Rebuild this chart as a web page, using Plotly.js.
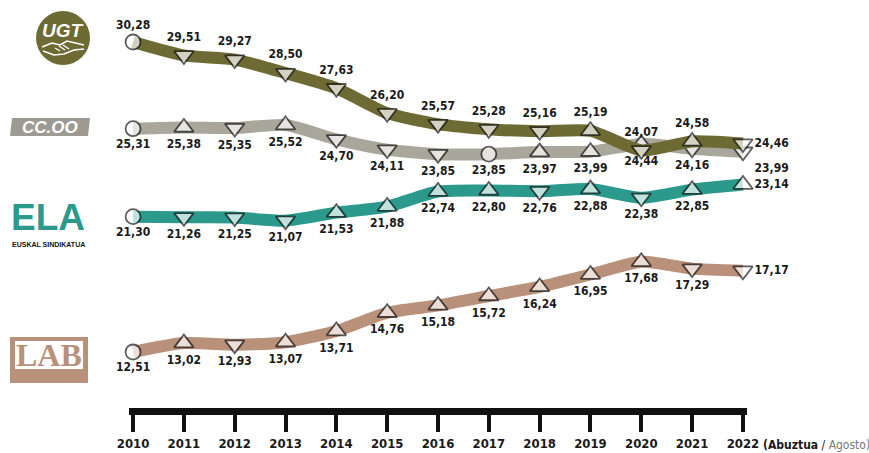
<!DOCTYPE html>
<html>
<head>
<meta charset="utf-8">
<script src="https://cdn.plot.ly/plotly-3.0.1.min.js"></script>
<style>html,body{margin:0;padding:0;background:#fff;}#chart{width:869px;height:453px;}</style>
</head>
<body>
<div id="chart"></div>
<script>
// ---- data ----
const years = [2010, 2011, 2012, 2013, 2014, 2015, 2016, 2017, 2018, 2019, 2020, 2021, 2022];
const tickLabels = ["2010","2011","2012","2013","2014","2015","2016","2017","2018","2019","2020","2021","2022"];
const ugt  = [30.28, 29.51, 29.27, 28.50, 27.63, 26.20, 25.57, 25.28, 25.16, 25.19, 24.07, 24.58, 24.46];
const ccoo = [25.31, 25.38, 25.35, 25.52, 24.70, 24.11, 23.85, 23.85, 23.97, 23.99, 24.44, 24.16, 23.99];
const ela  = [21.30, 21.26, 21.25, 21.07, 21.53, 21.88, 22.74, 22.80, 22.76, 22.88, 22.38, 22.85, 23.14];
const lab  = [12.51, 13.02, 12.93, 13.07, 13.71, 14.76, 15.18, 15.72, 16.24, 16.95, 17.68, 17.29, 17.17];
const seriesNames = ["UGT", "CC.OO", "ELA", "LAB"];

// ---- layout geometry (pixels) ----
const W = 869, H = 453;
const L = 129, R = 122, T = 10, B = 45;
const PW = W - L - R, PH = H - T - B;
const px = x => (x - L) / PW;
const py = y => (H - B - y) / PH;

const LBL_FONT = "'Liberation Sans Narrow', 'DejaVu Sans Condensed', 'Liberation Sans', sans-serif";

function symbols(v) {
  return v.map((d, i) => {
    if (i === 0 || d === v[i - 1]) return "circle";
    return d > v[i - 1] ? "triangle-up" : "triangle-down";
  });
}
function sizes(v) {
  return symbols(v).map(s => s === "circle" ? 15 : 17);
}
function labels(v) {
  return v.map(d => d.toFixed(2).replace(".", ","));
}
function positions(v, pos, lastPos) {
  return v.map((d, i) => i === v.length - 1 ? lastPos : pos);
}
function trace(v, name, color, pos, lastPos, yaxis) {
  return {
    x: years, y: v, name: name, yaxis: yaxis,
    type: "scatter", mode: "lines+markers+text",
    line: {color: color, width: 12, shape: "spline", smoothing: 0.6},
    marker: {symbol: symbols(v), size: sizes(v), color: "#ffffff",
             line: {color: "#1a1a1a", width: 1.8}},
    text: labels(v), textposition: positions(v, pos, lastPos),
    textfont: {family: LBL_FONT, size: 12, color: "#1a1a1a", weight: "bold"},
    cliponaxis: false, hoverinfo: "skip"
  };
}

const data = [
  trace(lab,  seriesNames[3], "#b9907a", "bottom center", "middle right", "y"),
  trace(ela,  seriesNames[2], "#2b9a8c", "bottom center", "middle right", "y2"),
  trace(ccoo, seriesNames[1], "#a9a79c", "bottom center", "bottom right", "y"),
  trace(ugt,  seriesNames[0], "#6d6a34", "top center", "middle right", "y")
];

// y scale: ~17.445 px per unit
const ppu = 17.445;
const yTop = 30.28 + (42 - T) / ppu;
const yBot = yTop - PH / ppu;
const shift = 18 / ppu; // ELA drawn on its own (offset) axis

const shapes = [
  // UGT logo
  {type: "circle", xref: "paper", yref: "paper",
   x0: px(36), x1: px(90), y0: py(65), y1: py(11),
   fillcolor: "#6d6a34", line: {width: 0}},
  {type: "path", xref: "paper", yref: "paper",
   path: `M${px(42)},${py(47)} L${px(52)},${py(43)} L${px(60)},${py(45)} L${px(67)},${py(41)} L${px(84)},${py(45)}`,
   line: {color: "#ffffff", width: 1.6}},
  {type: "path", xref: "paper", yref: "paper",
   path: `M${px(43)},${py(51)} L${px(54)},${py(55)} L${px(64)},${py(54)} L${px(74)},${py(50)} L${px(84)},${py(49)}`,
   line: {color: "#ffffff", width: 1.6}},
  {type: "path", xref: "paper", yref: "paper",
   path: `M${px(55)},${py(48)} L${px(60)},${py(51)} M${px(59)},${py(46)} L${px(65)},${py(50)} M${px(63)},${py(45)} L${px(69)},${py(49)}`,
   line: {color: "#ffffff", width: 1.3}},
  // CC.OO logo
  {type: "path", xref: "paper", yref: "paper",
   path: `M${px(12)},${py(118)} L${px(90)},${py(118)} L${px(88)},${py(136)} L${px(10)},${py(136)} Z`,
   fillcolor: "#9c9a91", line: {width: 0}},
  // LAB logo
  {type: "rect", xref: "paper", yref: "paper",
   x0: px(10), x1: px(88), y0: py(383), y1: py(337),
   fillcolor: "#b9907a", line: {width: 0}},
  {type: "rect", xref: "paper", yref: "paper",
   x0: px(15), x1: px(83), y0: py(369), y1: py(341),
   fillcolor: "#ffffff", line: {width: 0}}
];

function note(x, y, text, font, xanchor) {
  return {xref: "paper", yref: "paper", x: px(x), y: py(y), text: text, showarrow: false,
          xanchor: xanchor || "center", yanchor: "middle", font: font};
}
const annotations = [
  note(63, 30, "<i>UGT</i>", {family: "'Liberation Sans', sans-serif", size: 19, color: "#ffffff", weight: "bold"}),
  note(50, 127, "<i>CC.OO</i>", {family: "'Liberation Sans', sans-serif", size: 17, color: "#ffffff", weight: "bold"}),
  note(48, 217, "ELA", {family: "'Liberation Sans', sans-serif", size: 37, color: "#2b9a8c", weight: "bold"}),
  note(48, 245, "EUSKAL SINDIKATUA", {family: "'Liberation Sans', sans-serif", size: 7, color: "#111111", weight: "bold"}),
  note(49, 355, "LAB", {family: "'Liberation Serif', 'DejaVu Serif', serif", size: 32, color: "#b9907a", weight: "bold"}),
  note(761, 445, "<b>(Abuztua</b> / <span style='color:#777'>Agosto)</span>",
       {family: LBL_FONT, size: 12, color: "#1a1a1a"}, "left")
];

const layout = {
  width: W, height: H,
  margin: {l: L, r: R, t: T, b: B, pad: 0},
  paper_bgcolor: "#ffffff", plot_bgcolor: "#ffffff",
  showlegend: false,
  xaxis: {
    range: [2009.92, 2022.08], tickvals: years, ticktext: tickLabels,
    showgrid: false, zeroline: false,
    showline: true, linewidth: 7, linecolor: "#111111",
    ticks: "outside", ticklen: 17, tickwidth: 4, tickcolor: "#111111",
    tickfont: {family: LBL_FONT, size: 13, color: "#1a1a1a", weight: "bold"},
    fixedrange: true
  },
  yaxis: {range: [yBot, yTop], visible: false, fixedrange: true},
  yaxis2: {range: [yBot + shift, yTop + shift], overlaying: "y", visible: false, fixedrange: true},
  shapes: shapes,
  annotations: annotations
};

Plotly.newPlot("chart", data, layout, {staticPlot: true, displayModeBar: false});
</script>
</body>
</html>
